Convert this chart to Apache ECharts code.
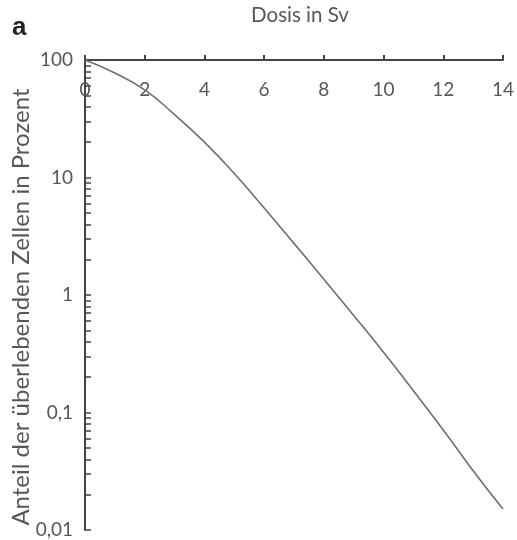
<!DOCTYPE html>
<html><head><meta charset="utf-8">
<script src="https://cdn.jsdelivr.net/npm/echarts@6/dist/echarts.min.js"></script>
<style>html,body{margin:0;padding:0;background:#fff}#c{width:517px;height:540px}</style>
</head><body><div id="c"></div>
<script>
const doseSv = [0, 1, 2, 3, 4, 5, 6, 7, 8, 9, 10, 11, 12, 13, 14];
const survivalPct = [100, 77.6, 55.6, 34.3, 20, 10.8, 5.5, 2.75, 1.36, 0.67, 0.325, 0.153, 0.071, 0.032, 0.0151];
const xTicks = [0, 2, 4, 6, 8, 10, 12, 14];
const yTickLabels = ["0,01", "0,1", "1", "10", "100"];
const yTickValues = [0.01, 0.1, 1, 10, 100];
const yMinorTicks = [0.01,0.02,0.03,0.04,0.05,0.06,0.07,0.08,0.09,
  0.1,0.2,0.3,0.4,0.5,0.6,0.7,0.8,0.9,
  1,2,3,4,5,6,7,8,9,
  10,20,30,40,50,60,70,80,90,100];

const font = "Lato, sans-serif";
const txt = '#575757';
const chart = echarts.init(document.getElementById('c'), null, {renderer: 'canvas'});
chart.setOption({
  animation: false,
  backgroundColor: '#fff',
  grid: {left: 85, right: 11, top: 58, bottom: 10},
  graphic: [
    {type: 'text', left: 12, top: 15, style: {text: 'a', fontSize: 26, fontWeight: 'bold', fill: '#222', fontFamily: 'Arial, sans-serif'}},
    {type: 'text', x: 21, y: 307, rotation: Math.PI / 2, style: {text: 'Anteil der überlebenden Zellen in Prozent', fontSize: 24, fill: txt, fontFamily: font, align: 'center', verticalAlign: 'middle'}}
  ],
  xAxis: {
    type: 'value', position: 'top', min: 0, max: 14, interval: 2,
    name: 'Dosis in Sv', nameLocation: 'middle', nameGap: 34,
    nameTextStyle: {fontSize: 20.5, color: txt, fontFamily: font, padding: [0, 0, 0, 12]},
    axisLine: {show: true, onZero: false, lineStyle: {color: '#444', width: 2}},
    axisTick: {show: true, inside: false, length: 5, lineStyle: {color: '#444', width: 2}},
    axisLabel: {inside: true, margin: 20, fontSize: 19, color: txt, fontFamily: font,
      formatter: v => xTicks.includes(v) ? String(v) : ''},
    splitLine: {show: false}
  },
  yAxis: {
    type: 'log', logBase: 10, min: 0.01, max: 100,
    axisLine: {show: true, onZero: false, lineStyle: {color: '#444', width: 2}},
    axisTick: {show: true, inside: true, length: 6, customValues: yMinorTicks, lineStyle: {color: '#444', width: 1.5}},
    axisLabel: {margin: 12, fontSize: 19, color: txt, fontFamily: font,
      customValues: yTickValues,
      formatter: v => { const i = yTickValues.findIndex(t => Math.abs(Math.log10(t) - Math.log10(v)) < 1e-6); return i >= 0 ? yTickLabels[i] : ''; }},
    splitLine: {show: false}
  },
  series: [{
    type: 'line', smooth: 0.5, symbol: 'none',
    data: doseSv.map((d, i) => [d, survivalPct[i]]),
    lineStyle: {color: '#6e6e6e', width: 1.6}
  }]
});
</script></body></html>
